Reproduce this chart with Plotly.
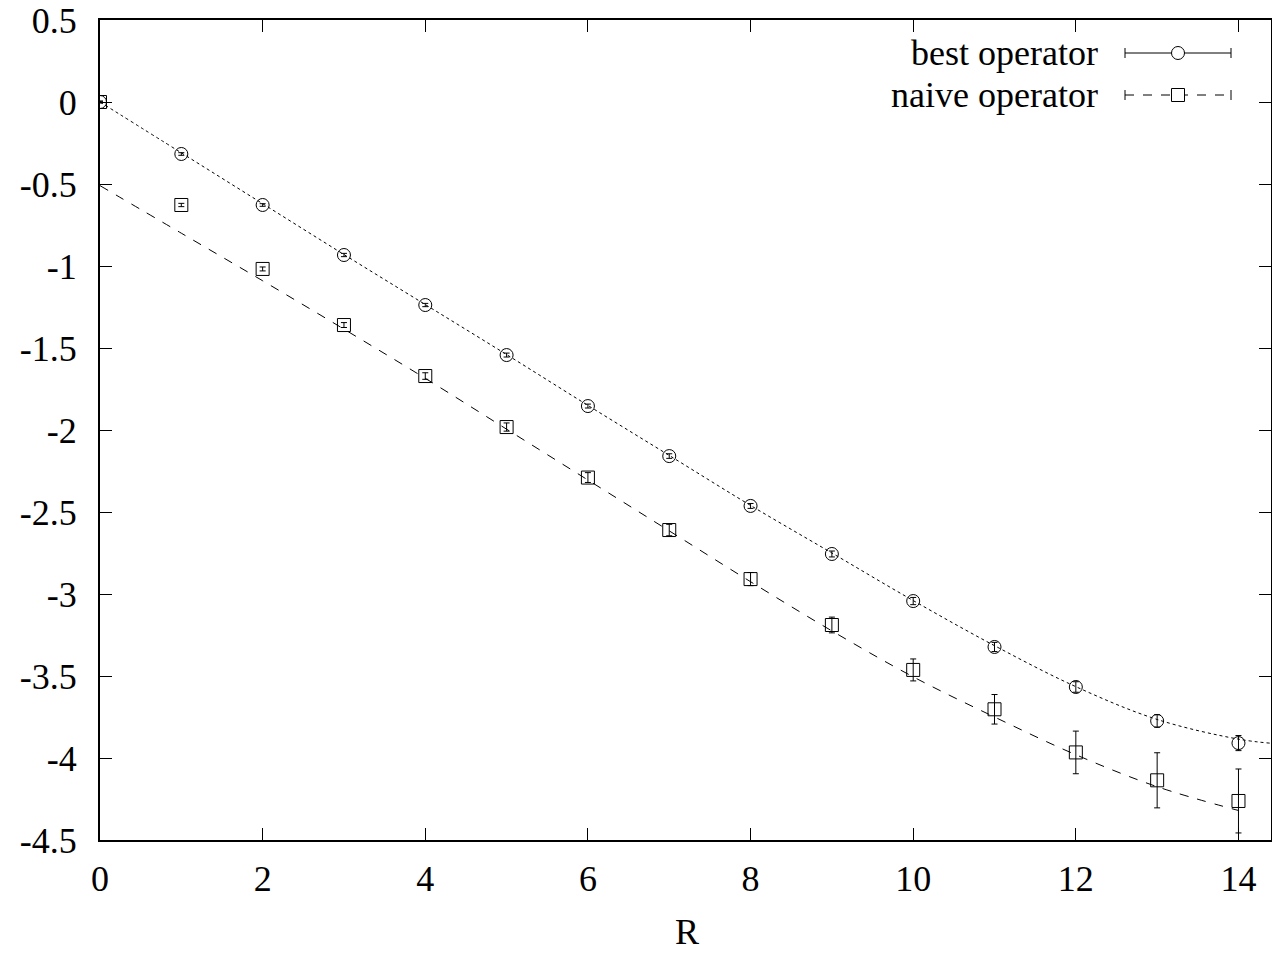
import plotly.graph_objects as go

# Measured energies vs separation R
R = list(range(15))
best = [0.0, -0.317, -0.628, -0.933, -1.238, -1.543, -1.854, -2.159, -2.463,
        -2.756, -3.043, -3.323, -3.567, -3.774, -3.909]
best_err = [0.005, 0.008, 0.008, 0.010, 0.010, 0.012, 0.012, 0.014, 0.015,
            0.018, 0.022, 0.028, 0.032, 0.038, 0.046]
naive = [0.0, -0.628, -1.018, -1.360, -1.671, -1.982, -2.290, -2.610, -2.909,
         -3.189, -3.463, -3.703, -3.966, -4.136, -4.262]
naive_err = [0.005, 0.010, 0.012, 0.015, 0.020, 0.025, 0.030, 0.035, 0.040,
             0.048, 0.067, 0.090, 0.130, 0.168, 0.195]

# Fitted curves
fit_best_x = [0, 1, 2, 3, 4, 5, 6, 7, 8, 9, 10, 11, 12, 13, 14, 14.4]
fit_best_y = [0.0, -0.31, -0.62, -0.93, -1.235, -1.54, -1.85, -2.155, -2.46,
              -2.75, -3.04, -3.315, -3.565, -3.765, -3.885, -3.91]
fit_naive_x = [0, 1, 2, 3, 4, 5, 6, 7, 8, 9, 10, 11, 12, 13, 14]
fit_naive_y = [-0.51, -0.80, -1.09, -1.385, -1.685, -1.995, -2.305, -2.615,
               -2.925, -3.225, -3.505, -3.75, -3.98, -4.175, -4.32]

# Axis ticks
x_ticks = [0, 2, 4, 6, 8, 10, 12, 14]
x_labels = ["0", "2", "4", "6", "8", "10", "12", "14"]
y_ticks = [0.5, 0, -0.5, -1, -1.5, -2, -2.5, -3, -3.5, -4, -4.5]
y_labels = ["0.5", "0", "-0.5", "-1", "-1.5", "-2", "-2.5", "-3", "-3.5", "-4", "-4.5"]
x_title = "R"

series_names = ["best operator", "naive operator"]

FONT = "Liberation Serif"
TXT = dict(family=FONT, size=36, color="black")
fig = go.Figure()

fig.add_trace(go.Scatter(x=fit_best_x, y=fit_best_y, mode="lines", line_shape="spline",
                         line=dict(color="black", width=1, dash="dot"), showlegend=False,
                         hoverinfo="skip"))
fig.add_trace(go.Scatter(x=fit_naive_x, y=fit_naive_y, mode="lines", line_shape="spline",
                         line=dict(color="black", width=1, dash="dash"), showlegend=False,
                         hoverinfo="skip"))
fig.add_trace(go.Scatter(x=R, y=best, mode="markers", name=series_names[0],
                         marker=dict(symbol="circle-open", size=13, color="black",
                                     line=dict(width=1, color="black")),
                         error_y=dict(type="data", array=best_err, color="black",
                                      thickness=1, width=3),
                         showlegend=False))
fig.add_trace(go.Scatter(x=R, y=naive, mode="markers", name=series_names[1],
                         marker=dict(symbol="square-open", size=13, color="black",
                                     line=dict(width=1, color="black")),
                         error_y=dict(type="data", array=naive_err, color="black",
                                      thickness=1, width=3),
                         showlegend=False))

# Legend drawn in gnuplot style: text on the left, sample on the right
LEFT, RIGHT, TOP, BOTTOM = 100, 1271, 20, 840
W, H = float(RIGHT - LEFT), float(BOTTOM - TOP)
def px(xp):
    return (xp - LEFT) / W
def py(yp):
    return (BOTTOM - yp) / H

shapes = []
annotations = []
rows = [(53, "solid", "circle"), (95, "dash", "rect")]
for (yy, dash, sym), name in zip(rows, series_names):
    annotations.append(dict(x=px(1100), y=py(yy), xref="paper", yref="paper",
                            text=name, showarrow=False, xanchor="right",
                            yanchor="middle", font=TXT))
    shapes.append(dict(type="line", xref="paper", yref="paper",
                       x0=px(1125), x1=px(1231), y0=py(yy), y1=py(yy),
                       line=dict(color="black", width=1, dash=dash)))
    for xe in (1125, 1231):
        shapes.append(dict(type="line", xref="paper", yref="paper",
                           x0=px(xe), x1=px(xe), y0=py(yy - 5), y1=py(yy + 5),
                           line=dict(color="black", width=1)))
    shapes.append(dict(type=sym, xref="paper", yref="paper",
                       xsizemode="pixel", ysizemode="pixel",
                       xanchor=px(1178), yanchor=py(yy),
                       x0=-6.5, x1=6.5, y0=-6.5, y1=6.5,
                       fillcolor="white", line=dict(color="black", width=1)))

# x-axis title, kept inside the page
annotations.append(dict(x=px(687), y=py(954), xref="paper", yref="paper",
                        text=x_title, showarrow=False, xanchor="center",
                        yanchor="bottom", font=TXT))

fig.update_layout(
    width=1272, height=955,
    margin=dict(l=LEFT, r=1272 - RIGHT, t=TOP, b=955 - BOTTOM),
    paper_bgcolor="white", plot_bgcolor="white",
    font=TXT,
    shapes=shapes, annotations=annotations,
    showlegend=False,
)
fig.update_xaxes(range=[0, 14.4], tickvals=x_ticks, ticktext=x_labels,
                 ticks="inside", ticklen=12, tickwidth=1, tickcolor="black",
                 showline=True, linewidth=2, linecolor="black", mirror="ticks",
                 showgrid=False, zeroline=False, ticklabelstandoff=6,
                 tickfont=TXT, automargin=False)
fig.update_yaxes(range=[-4.5, 0.5], tickvals=y_ticks, ticktext=y_labels,
                 ticks="inside", ticklen=12, tickwidth=1, tickcolor="black",
                 showline=True, linewidth=2, linecolor="black", mirror="ticks",
                 showgrid=False, zeroline=False, ticklabelstandoff=14,
                 tickfont=TXT, automargin=False)

fig.write_html("out.html")
